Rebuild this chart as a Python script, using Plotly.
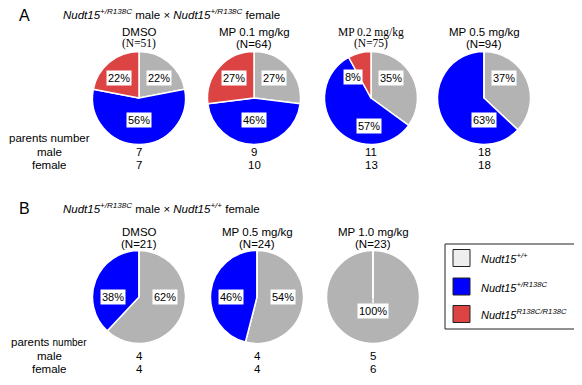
import math
import plotly.graph_objects as go

# page is shown with the browser's default 8px body margin -> figure starts at (8, 8)
OX, OY = 8, 8
FW, FH = 574, 377

# ---------------- data ----------------
genotypes = ["+/+", "+/R138C", "R138C/R138C"]

a_groups = ["DMSO", "MP 0.1 mg/kg", "MP 0.2 mg/kg", "MP 0.5 mg/kg"]
a_n = [51, 64, 75, 94]
a_wt = [22, 27, 35, 37]
a_het = [56, 46, 57, 63]
a_hom = [22, 27, 8, 0]
a_male = [7, 9, 11, 18]
a_female = [7, 10, 13, 18]

b_groups = ["DMSO", "MP 0.5 mg/kg", "MP 1.0 mg/kg"]
b_n = [21, 24, 23]
b_wt = [62, 54, 100]
b_het = [38, 46, 0]
b_hom = [0, 0, 0]
b_male = [4, 4, 5]
b_female = [4, 4, 6]

# ---------------- style ----------------
SANS = "Liberation Sans, Arial, sans-serif"
SERIF = "Liberation Serif, Times New Roman, serif"
COLORS = ["#b3b3b3", "#0000ff", "#dc4444"]
LEG_COLORS = ["#eeeeee", "#0000ff", "#dc4444"]

R = 46.5
A_CX = [139, 254, 371, 484]
A_CY = 98
B_CX = [139, 257, 373]
B_CY = 297

# label directions (degrees clockwise from 12 o'clock) per slice
A_DIRS = [[45, 180, 315], [45, 180, 315], [45, 185, 320], [45, 180, 0]]
B_DIRS = [[90, 270, 0], [90, 270, 0], [180, 0, 0]]
A_HDR_FONT = [(SANS, SERIF), (SANS, SANS), (SERIF, SERIF), (SANS, SANS)]

HDR = 11.5
LBL = 11
TXT = 11.5


def px(x):
    return (x - OX) / FW


def py(y):
    return 1 - (y - OY) / FH


fig = go.Figure()
annotations = []
shapes = []


def text(x, y, t, size=TXT, family=SANS, xanchor="center", color="black", **kw):
    annotations.append(dict(x=px(x), y=py(y), xref="paper", yref="paper", text=t,
                            showarrow=False, xanchor=xanchor, yanchor="middle",
                            font=dict(size=size, family=family, color=color), **kw))


def add_pie(cx, cy, vals, dirs, rfracs):
    fig.add_trace(go.Pie(
        labels=genotypes, values=vals, sort=False, direction="clockwise", rotation=0,
        marker=dict(colors=COLORS, line=dict(color="white", width=1.5)),
        textinfo="none", hoverinfo="label+percent", showlegend=False,
        domain=dict(x=[px(cx - R), px(cx + R)], y=[py(cy + R), py(cy - R)]),
    ))
    for v, d, rf in zip(vals, dirs, rfracs):
        if v <= 0:
            continue
        a = math.radians(d)
        lx = cx + rf * R * math.sin(a)
        ly = cy - rf * R * math.cos(a)
        text(lx, ly, f"{v}%", size=LBL, bgcolor="white", borderpad=1)
    if max(vals) == sum(vals):
        shapes.append(dict(type="line", xref="paper", yref="paper",
                           x0=px(cx), x1=px(cx), y0=py(cy + 6), y1=py(cy - R),
                           line=dict(color="white", width=1.5), layer="above"))


# ---- Panel A ----
text(24, 15, "A", size=16)
text(61, 14, "<i>Nudt15<sup>+/R138C</sup></i> male × <i>Nudt15<sup>+/R138C</sup></i> female",
     size=TXT, xanchor="left")
for i, g in enumerate(a_groups):
    cx = A_CX[i]
    f1, f2 = A_HDR_FONT[i]
    text(cx, 32, g, size=HDR, family=f1)
    text(cx, 44, f"(N={a_n[i]})", size=HDR, family=f2)
    vals = [a_wt[i], a_het[i], a_hom[i]]
    add_pie(cx, A_CY, vals, A_DIRS[i], [0.6 if d % 90 else 0.48 for d in A_DIRS[i]])
    text(cx, 152, str(a_male[i]))
    text(cx, 165, str(a_female[i]))
text(49, 138, "parents number")
text(49, 152, "male")
text(49, 165, "female")

# ---- Panel B ----
text(24, 208, "B", size=16)
text(61, 208, "<i>Nudt15<sup>+/R138C</sup></i> male × <i>Nudt15<sup>+/+</sup></i> female",
     size=TXT, xanchor="left")
for i, g in enumerate(b_groups):
    cx = B_CX[i]
    text(cx, 232, g, size=HDR)
    text(cx, 244, f"(N={b_n[i]})", size=HDR)
    vals = [b_wt[i], b_het[i], b_hom[i]]
    rf = [0.3 if v == 100 else 0.55 for v in vals]
    add_pie(cx, B_CY, vals, B_DIRS[i], rf)
    text(cx, 356, str(b_male[i]))
    text(cx, 369, str(b_female[i]))
text(49, 342, "parents <span style='font-size:10px'>number</span>")
text(49, 356, "male")
text(49, 369, "female")

# ---- Legend ----
shapes.append(dict(type="rect", xref="paper", yref="paper",
                   x0=px(445), x1=px(577), y0=py(329), y1=py(244),
                   line=dict(color="#222222", width=1), fillcolor="white", layer="below"))
leg_y = [258, 286.5, 314]
leg_txt = ["<i>Nudt15<sup>+/+</sup></i>", "<i>Nudt15<sup>+/R138C</sup></i>",
           "<i>Nudt15<sup>R138C/R138C</sup></i>"]
for yy, c, t in zip(leg_y, LEG_COLORS, leg_txt):
    shapes.append(dict(type="rect", xref="paper", yref="paper",
                       x0=px(453), x1=px(470), y0=py(yy + 8.5), y1=py(yy - 8.5),
                       line=dict(color="#222222", width=1), fillcolor=c))
    text(479, yy, t, size=11, xanchor="left")

fig.update_layout(
    width=FW, height=FH, margin=dict(l=0, r=0, t=0, b=0),
    paper_bgcolor="white", plot_bgcolor="white",
    annotations=annotations, shapes=shapes, showlegend=False,
)
fig.write_html("out.html")
